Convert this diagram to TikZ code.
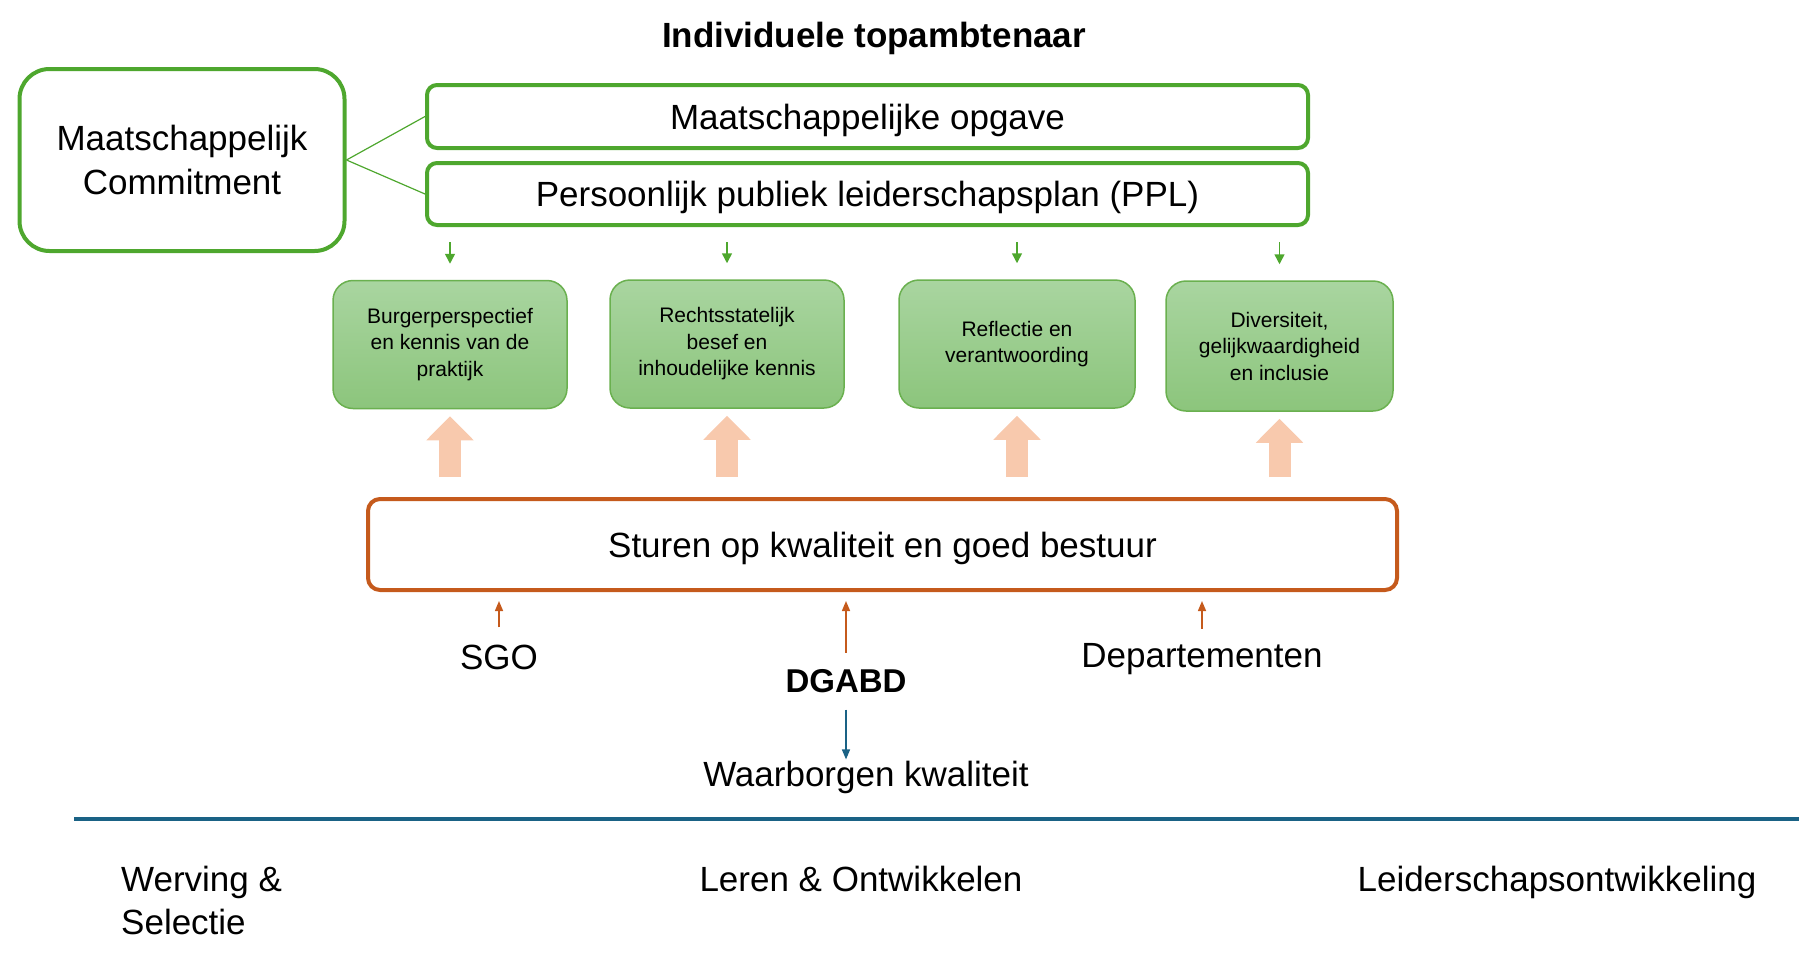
\documentclass[tikz,border=0pt]{standalone}
\usepackage{fontspec}
\setmainfont{Liberation Sans}
\usetikzlibrary{arrows.meta}
\definecolor{gline}{HTML}{4EA72E}
\definecolor{gboxline}{HTML}{6AB04F}
\definecolor{gtop}{HTML}{A9D5A0}
\definecolor{gbot}{HTML}{8CC57C}
\definecolor{oline}{HTML}{C55A1C}
\definecolor{peach}{HTML}{F8C9AD}
\definecolor{bline}{HTML}{1A6285}
\begin{document}
\begin{tikzpicture}[x=1pt,y=-1pt,
  bigbox/.style={draw=gline, line width=4pt, rounded corners=10pt, fill=white, inner sep=0pt, align=center, font=\fontsize{35}{44}\selectfont},
  greenbox/.style={draw=gboxline, line width=1.5pt, rounded corners=20pt, top color=gtop, bottom color=gbot, inner sep=0pt, align=center, minimum width=234pt, minimum height=128pt, font=\fontsize{21}{26.5}\selectfont},
  lbl/.style={inner sep=0pt, anchor=base, font=\fontsize{35}{42}\selectfont},
  garrow/.style={draw=gline, line width=1.5pt, -{Triangle[length=10pt,width=10pt]}},
  oarrow/.style={draw=oline, line width=1.5pt, -{Triangle[length=10pt,width=8pt]}},
  barrow/.style={draw=bline, line width=1.5pt, -{Triangle[length=10pt,width=8pt]}},
  fatarrow/.style={draw=peach, line width=22pt, -{Triangle[length=24pt,width=46pt]}}
]
\useasboundingbox (0,0) rectangle (1808,956);

\node[inner sep=0pt, anchor=base, font=\fontsize{35}{42}\selectfont\bfseries] (title) at (874,47) {Individuele topambtenaar};

\node[bigbox, rounded corners=30pt, minimum width=325pt, minimum height=182pt] (mc) at (182,160) {Maatschappelijk\\Commitment};
\node[bigbox, text depth=0pt, minimum width=881pt, minimum height=63pt] (mo) at (867.5,116.5) {Maatschappelijke opgave};
\node[bigbox, text depth=0pt, minimum width=881pt, minimum height=62pt] (ppl) at (867.5,194) {Persoonlijk publiek leiderschapsplan (PPL)};

\draw[gline, line width=1.2pt] (mc.east) -- (mo.west);
\draw[gline, line width=1.2pt] (mc.east) -- (ppl.west);

\node[greenbox] (g1) at (450,344.5) {Burgerperspectief\\en kennis van de\\praktijk};
\node[greenbox] (g2) at (727,344) {Rechtsstatelijk\\besef en\\inhoudelijke kennis};
\node[greenbox, minimum width=236pt] (g3) at (1017,344) {Reflectie en\\verantwoording};
\node[greenbox, minimum width=227pt, minimum height=130pt] (g4) at (1279.5,346) {Diversiteit,\\gelijkwaardigheid\\en inclusie};

\foreach \g in {g1,g2,g3,g4}{
  \draw[garrow, shorten <=15pt, shorten >=16pt] (ppl.south -| \g.north) -- (\g.north);
}

\node[draw=oline, line width=4pt, rounded corners=12pt, fill=white, inner sep=0pt, text depth=0pt, minimum width=1029pt, minimum height=91pt, font=\fontsize{35}{42}\selectfont] (ob) at (882.5,544.5) {Sturen op kwaliteit en goed bestuur};

\foreach \g in {g1,g2,g3,g4}{
  \draw[fatarrow, shorten <=20pt, shorten >=7pt] (ob.north -| \g.south) -- (\g.south);
}

\node[lbl] (sgo) at (499,669) {SGO};
\node[lbl, font=\fontsize{33}{40}\selectfont\bfseries] (dgabd) at (846,692) {DGABD};
\node[lbl] (dep) at (1202,667) {Departementen};
\node[lbl] (wk) at (866,786) {Waarborgen kwaliteit};

\draw[oarrow, shorten <=17pt, shorten >=9pt] (sgo.north) -- (sgo.north |- ob.south);
\draw[oarrow, shorten <=16pt, shorten >=9pt] (dgabd.north) -- (dgabd.north |- ob.south);
\draw[oarrow, shorten <=14pt, shorten >=9pt] (dep.north) -- (dep.north |- ob.south);
\draw[barrow, shorten <=17pt, shorten >=1pt] (dgabd.south) -- (dgabd.south |- wk.north);

\draw[bline, line width=4.5pt] (74,819) -- (1799,819);

\node[inner sep=0pt, anchor=north west, align=left, font=\fontsize{35}{43}\selectfont] (ws) at (121,866) {Werving \&\\Selectie};
\node[lbl] (lo) at (861,891) {Leren \& Ontwikkelen};
\node[lbl] (lso) at (1557,891) {Leiderschapsontwikkeling};
\end{tikzpicture}
\end{document}
